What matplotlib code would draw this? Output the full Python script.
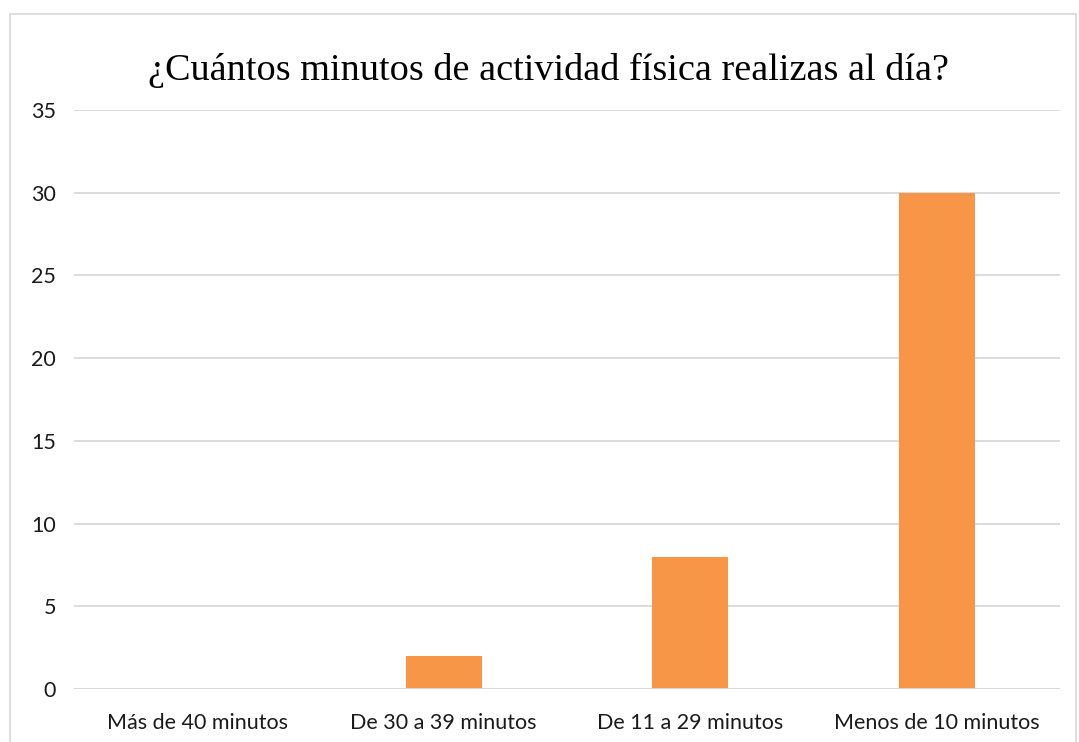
import matplotlib
matplotlib.use("Agg")
import matplotlib.pyplot as plt
from matplotlib.patches import Rectangle

categories = ["Más de 40 minutos", "De 30 a 39 minutos", "De 11 a 29 minutos", "Menos de 10 minutos"]
values = [0, 2, 8, 30]
yticks = [0, 5, 10, 15, 20, 25, 30, 35]
title = "¿Cuántos minutos de actividad física realizas al día?"

fig = plt.figure(figsize=(10.79, 7.42), dpi=100)
# light border around the whole chart area
fig.patches.append(Rectangle((10 / 1079, -0.01), 1066 / 1079, 1 - 14 / 742 + 0.01,
                             transform=fig.transFigure, fill=False,
                             edgecolor="#d9d9d9", lw=1.2))
ax = fig.add_axes([74 / 1079, 1 - 689 / 742, 986 / 1079, 579 / 742])

x = list(range(len(categories)))
ax.bar(x, values, width=0.31, color="#F79646", zorder=3)
ax.set_xlim(-0.5, 3.5)
ax.set_ylim(0, 35)
ax.set_yticks(yticks)
ax.grid(axis="y", color="#d9d9d9", lw=1.3, zorder=0)
ax.axhline(0, color="#d9d9d9", lw=1.3, zorder=4)
for s in ax.spines.values():
    s.set_visible(False)
ax.tick_params(length=0, labelsize=15.5, colors="#1a1a1a")
ax.tick_params(axis="x", pad=17)
ax.tick_params(axis="y", pad=13)
ax.set_xticks(x)
ax.set_xticklabels(categories, family="Lato")
for lb in ax.get_yticklabels():
    lb.set_family("Lato")

fig.text(548 / 1079, 1 - 70 / 742, title, ha="center", va="center",
         family="Liberation Serif", fontsize=27.5, color="black")

fig.savefig("out.png", dpi=100)
